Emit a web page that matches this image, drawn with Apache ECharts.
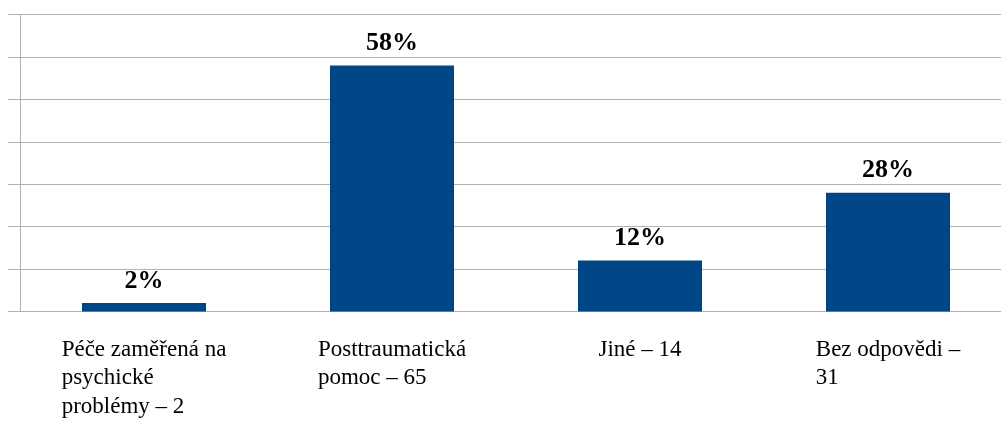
<!DOCTYPE html>
<html>
<head>
<meta charset="utf-8">
<script src="https://cdn.jsdelivr.net/npm/echarts@6/dist/echarts.min.js"></script>
<style>
	html, body { margin: 0; padding: 0; background: #fff; }
	#chart { width: 1001px; height: 423px; }
</style>
</head>
<body>
<div id="chart"></div>
<script>
// kategorie (zalomené jako v originále)
var categories = [
	'Péče zaměřená na\npsychické\nproblémy – 2',
	'Posttraumatická\npomoc – 65',
	'Jiné – 14',
	'Bez odpovědi –\n31'
];
var values = [2, 58, 12, 28];
var yMax = 70;
var yStep = 10;

var serif = '"Liberation Serif", "Times New Roman", "DejaVu Serif", serif';

var myChart = echarts.init(document.getElementById('chart'));
var option = {
	animation: false,
	textStyle: { fontFamily: serif },
	grid: {
		left: 20,
		top: 14.5,
		width: 992,
		height: 297,
		containLabel: false,
		outerBoundsMode: 'none'
	},
	xAxis: {
		type: 'category',
		data: categories,
		axisLine: { lineStyle: { color: '#b3b3b3', width: 1 } },
		axisTick: { length: 10, lineStyle: { color: '#b3b3b3' } },
		axisLabel: {
			interval: 0,
			margin: 24,
			color: '#000',
			fontFamily: serif,
			fontSize: 23,
			lineHeight: 28.5,
			formatter: function (v) {
				return v.split('\n').map(function (s) { return '{a|' + s + '}'; }).join('\n');
			},
			rich: {
				a: { align: 'left', fontFamily: serif, fontSize: 23, lineHeight: 28.5, color: '#000' }
			}
		}
	},
	yAxis: {
		type: 'value',
		min: 0,
		max: yMax,
		interval: yStep,
		axisLine: { show: true, lineStyle: { color: '#b3b3b3' } },
		axisTick: { show: true, inside: false, length: 12, lineStyle: { color: '#b3b3b3' } },
		axisLabel: { show: false },
		splitLine: { lineStyle: { color: '#b3b3b3' } }
	},
	series: [{
		type: 'bar',
		data: values,
		barWidth: '50%',
		itemStyle: { color: '#004586' },
		label: {
			show: true,
			position: 'top',
			distance: 9,
			formatter: '{c}%',
			color: '#000',
			fontFamily: serif,
			fontWeight: 'bold',
			fontSize: 26
		}
	}]
};
myChart.setOption(option);
window.addEventListener('resize', function () {
	myChart.resize();
});
</script>
</body>
</html>
